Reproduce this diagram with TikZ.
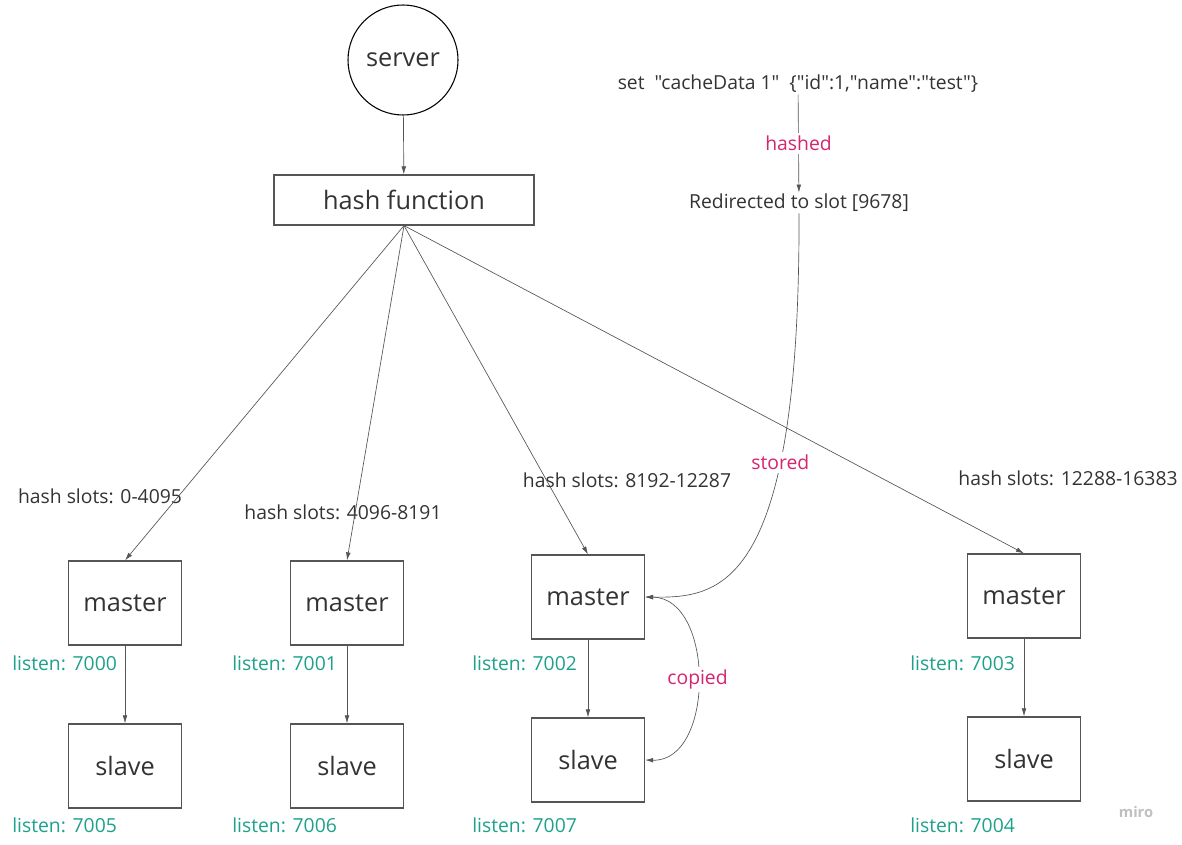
\documentclass[tikz,border=0pt]{standalone}
\usepackage{fontspec}
\setmainfont{Open Sans}[Ligatures=TeXOff]
\usetikzlibrary{arrows.meta}

\definecolor{txtgray}{RGB}{51,51,51}
\definecolor{linegray}{RGB}{85,85,85}
\definecolor{hashpink}{RGB}{214,36,110}
\definecolor{listenteal}{RGB}{30,160,140}

\tikzset{
  box/.style={draw=linegray, line width=0.9pt, minimum width=84.75pt, minimum height=63pt,
    text=txtgray, font=\fontsize{19}{22}\selectfont},
  lbl/.style={text=txtgray, font=\fontsize{14.5}{17}\selectfont, inner sep=1pt},
  port/.style={text=listenteal, font=\fontsize{14.5}{17}\selectfont, anchor=west, inner sep=0pt},
  act/.style={text=hashpink, font=\fontsize{14.5}{17}\selectfont, fill=white, inner sep=2pt},
  link/.style={draw=linegray, line width=0.5pt, -{Latex[length=6pt,width=3.5pt]}}
}

\begin{document}
\begin{tikzpicture}[x=0.75pt,y=-0.75pt]
	\useasboundingbox (0,0) rectangle (1182,845);
	
	\node[circle, draw=black, line width=0.8pt, minimum size=82.5pt, text=txtgray,
	      font=\fontsize{19}{22}\selectfont] (server) at (403,60) {server};
	\node[box, minimum width=195pt, minimum height=37.5pt] (hashfn) at (404,200) {hash function};
	
	\node[box] (m1) at (125,603) {master};
	\node[box] (m2) at (347,603) {master};
	\node[box] (m3) at (588,597) {master};
	\node[box] (m4) at (1024,596) {master};
	
	\node[box] (s1) at (125,766) {slave};
	\node[box] (s2) at (347,766) {slave};
	\node[box] (s3) at (588,760) {slave};
	\node[box] (s4) at (1024,759) {slave};
	
	\node[lbl] (cmd) at (798,84) {set\ \ "cacheData 1"\ \ \{"id":1,"name":"test"\}};
	\node[lbl] (redir) at (799,203) {Redirected to slot [9678]};
	
	\node[lbl] (hs1) at (100,496) {hash slots: 0-4095};
	\node[lbl] (hs2) at (343,512) {hash slots: 4096-8191};
	\node[lbl] (hs3) at (627,480) {hash slots: 8192-12287};
	\node[lbl] (hs4) at (1068,478) {hash slots: 12288-16383};
	
	\node[port] (p0) at (12,663) {listen: 7000};
	\node[port] (p1) at (232,663) {listen: 7001};
	\node[port] (p2) at (472,663) {listen: 7002};
	\node[port] (p3) at (910,663) {listen: 7003};
	\node[port] (p5) at (12,825) {listen: 7005};
	\node[port] (p6) at (232,825) {listen: 7006};
	\node[port] (p7) at (472,825) {listen: 7007};
	\node[port] (p4) at (910,825) {listen: 7004};
	
	\node[text=black!25, font=\bfseries\fontsize{11}{13}\selectfont] (miro) at (1136,812) {miro};
	
	\draw[link] (server) -- (hashfn);
	\draw[link] (hashfn.south) -- (m1.north);
	\draw[link] (hashfn.south) -- (m2.north);
	\draw[link] (hashfn.south) -- (m3.north);
	\draw[link] (hashfn.south) -- (m4.north);
	
	\draw[link] (m1) -- (s1);
	\draw[link] (m2) -- (s2);
	\draw[link] (m3) -- (s3);
	\draw[link] (m4) -- (s4);
	
	\draw[link] (cmd) -- node[act] {hashed} (redir);
	\draw[link] (redir) .. controls (800,590) and (720,598) .. (m3.east)
		node[act, pos=0.3] {stored};
	\draw[link, {Latex[length=6pt,width=3.5pt]}-{Latex[length=6pt,width=3.5pt]}]
		(m3.east) .. controls (715,598) and (715,762) .. node[act] {copied} (s3.east);
\end{tikzpicture}
\end{document}
